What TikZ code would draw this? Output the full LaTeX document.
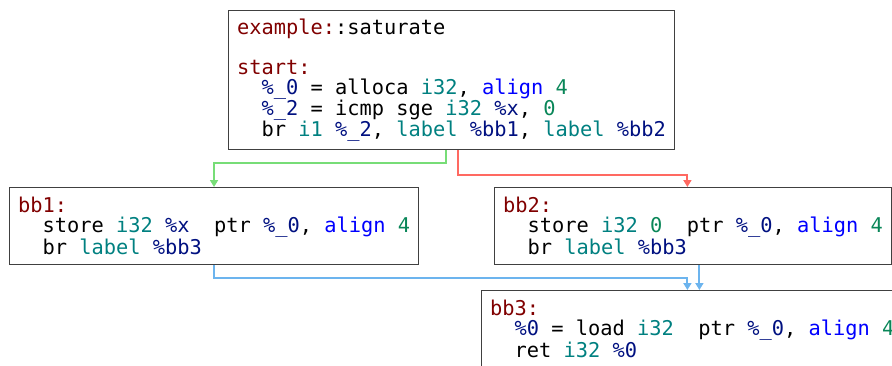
\documentclass[tikz,border=0pt]{standalone}
\usepackage{fontspec}
\newfontfamily\irfont{DejaVu Sans Mono}
\definecolor{irlbl}{RGB}{128,0,0}
\definecolor{irvar}{RGB}{0,16,128}
\definecolor{irty}{RGB}{0,128,128}
\definecolor{irkw}{RGB}{0,0,255}
\definecolor{irnum}{RGB}{9,134,88}
\definecolor{irframe}{RGB}{64,64,64}
\definecolor{edgegreen}{RGB}{119,221,119}
\definecolor{edgered}{RGB}{255,105,97}
\definecolor{edgeblue}{RGB}{108,180,238}
\usetikzlibrary{arrows.meta}

\newcommand\lbl[1]{\textcolor{irlbl}{#1}}
\newcommand\var[1]{\textcolor{irvar}{#1}}
\newcommand\ty[1]{\textcolor{irty}{#1}}
\newcommand\kw[1]{\textcolor{irkw}{#1}}
\newcommand\num[1]{\textcolor{irnum}{#1}}
\newcommand\ind{\mbox{\ \ }}

\tikzset{
    irblock/.style={draw=irframe, line width=1pt, align=left, anchor=north west,
        inner xsep=8.5pt, inner ysep=0pt, font=\irfont\fontsize{20.35}{20}\selectfont},
    iredge/.style={line width=2pt, -{Triangle[width=8pt,length=7pt]}},
}

\begin{document}
\begin{tikzpicture}[x=1pt,y=-1pt]
    \useasboundingbox (0,0) rectangle (892,365);
    \clip (0,0) rectangle (892,365);

    \node[irblock, minimum height=139pt] (start) at (228,10) {%
        \lbl{example:}:saturate\\
        \mbox{}\\
        \lbl{start:}\\
        \ind\var{\%\_0} = alloca \ty{i32}, \kw{align} \num{4}\\
        \ind\var{\%\_2} = icmp sge \ty{i32} \var{\%x}, \num{0}\\
        \ind br \ty{i1} \var{\%\_2}, \ty{label} \var{\%bb1}, \ty{label} \var{\%bb2}};

    \node[irblock, minimum height=77pt] (bb1) at (9,187) {%
        \lbl{bb1:}\\
        \ind store \ty{i32} \var{\%x}\ \ ptr \var{\%\_0}, \kw{align} \num{4}\\
        \ind br \ty{label} \var{\%bb3}};

    \node[irblock, minimum height=77pt] (bb2) at (494,187) {%
        \lbl{bb2:}\\
        \ind store \ty{i32} \num{0}\ \ ptr \var{\%\_0}, \kw{align} \num{4}\\
        \ind br \ty{label} \var{\%bb3}};

    \node[irblock, minimum height=77pt] (bb3) at (481,290) {%
        \lbl{bb3:}\\
        \ind\var{\%0} = load \ty{i32}\ \ ptr \var{\%\_0}, \kw{align} \num{4}\\
        \ind ret \ty{i32} \var{\%0}};

    % branches
    \draw[iredge, edgegreen] ([xshift=-5.5pt]start.south) -- ++(0,13) -| (bb1.north);
    \draw[iredge, edgered] ([xshift=6.5pt]start.south) -- ++(0,25) -| ([xshift=-5.5pt]bb2.north);
    \draw[iredge, edgeblue] (bb1.south) -- ++(0,13) -| ([xshift=-5.5pt]bb2.south |- bb3.north);
    \draw[iredge, edgeblue] ([xshift=6.5pt]bb2.south) -- ([xshift=6.5pt]bb2.south |- bb3.north);
\end{tikzpicture}
\end{document}
